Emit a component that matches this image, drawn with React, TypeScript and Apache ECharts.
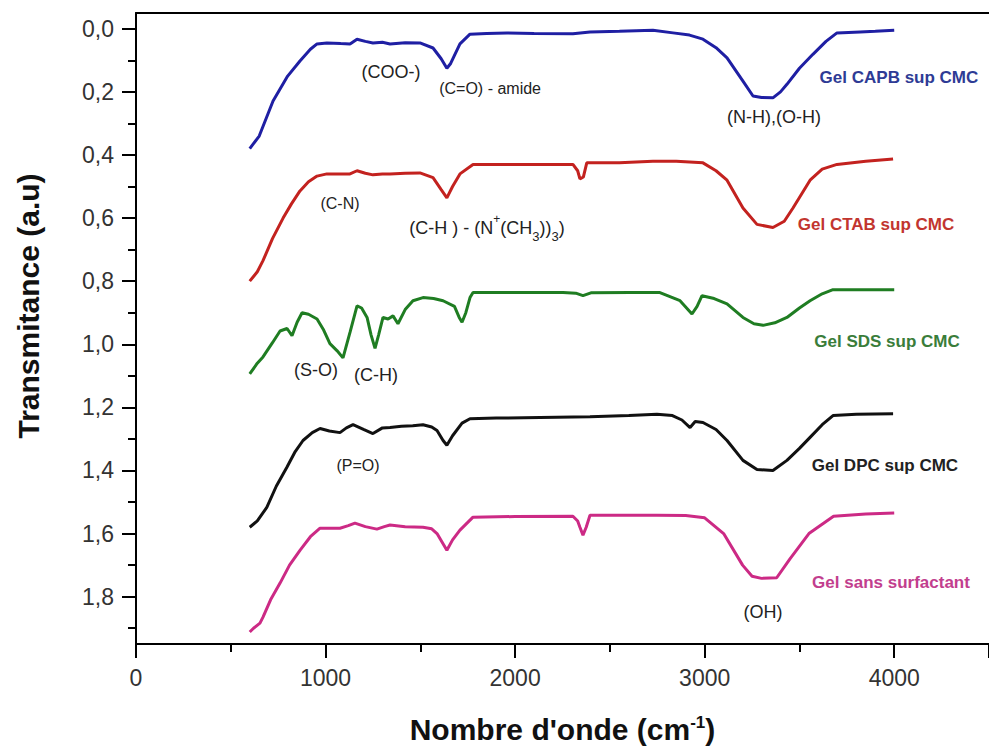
import React, { useEffect, useRef } from "react";
import * as echarts from "echarts";

const FONT = "'Liberation Sans', Arial, sans-serif";

// Wavenumbers (cm-1) and transmittance values
const capbX = [600, 650, 723, 800, 865, 920, 955, 1007, 1080, 1129, 1166, 1210, 1250, 1300, 1340, 1420, 1498, 1567, 1610, 1640, 1660, 1709, 1762, 1850, 1957, 2100, 2305, 2395, 2550, 2727, 2833, 2920, 2991, 3060, 3118, 3202, 3255, 3300, 3360, 3400, 3434, 3500, 3571, 3640, 3698, 3820, 3900, 4000];
const capbY = [0.38, 0.34, 0.229, 0.15, 0.102, 0.065, 0.048, 0.045, 0.047, 0.048, 0.033, 0.04, 0.045, 0.043, 0.048, 0.044, 0.045, 0.061, 0.095, 0.125, 0.11, 0.048, 0.017, 0.015, 0.013, 0.015, 0.016, 0.01, 0.008, 0.005, 0.013, 0.02, 0.033, 0.06, 0.092, 0.166, 0.213, 0.218, 0.219, 0.2, 0.176, 0.125, 0.081, 0.04, 0.013, 0.01, 0.008, 0.005];

const ctabX = [600, 620, 640, 670, 720, 776, 820, 865, 910, 955, 1007, 1080, 1129, 1166, 1210, 1250, 1300, 1340, 1420, 1498, 1567, 1610, 1640, 1670, 1709, 1778, 1957, 2100, 2305, 2330, 2342, 2360, 2378, 2550, 2727, 2850, 2991, 3060, 3118, 3202, 3276, 3360, 3420, 3466, 3556, 3620, 3698, 3850, 3994];
const ctabY = [0.8, 0.785, 0.77, 0.735, 0.665, 0.6, 0.555, 0.514, 0.485, 0.467, 0.46, 0.46, 0.46, 0.45, 0.458, 0.463, 0.46, 0.46, 0.458, 0.457, 0.472, 0.51, 0.536, 0.5, 0.46, 0.43, 0.43, 0.43, 0.43, 0.45, 0.476, 0.47, 0.425, 0.425, 0.42, 0.42, 0.425, 0.45, 0.48, 0.568, 0.62, 0.63, 0.61, 0.568, 0.48, 0.445, 0.43, 0.42, 0.413];

const sdsX = [600, 640, 670, 720, 760, 797, 823, 850, 876, 910, 955, 990, 1023, 1060, 1092, 1130, 1166, 1190, 1219, 1240, 1261, 1280, 1303, 1330, 1356, 1382, 1420, 1461, 1514, 1570, 1620, 1680, 1705, 1720, 1740, 1762, 1778, 2000, 2253, 2320, 2358, 2400, 2606, 2764, 2870, 2933, 2960, 2986, 3050, 3118, 3202, 3260, 3308, 3370, 3434, 3500, 3556, 3620, 3677, 3800, 4000];
const sdsY = [1.094, 1.06, 1.04, 0.995, 0.958, 0.95, 0.973, 0.93, 0.9, 0.905, 0.92, 0.955, 0.998, 1.02, 1.043, 0.96, 0.878, 0.885, 0.915, 0.97, 1.013, 0.97, 0.915, 0.92, 0.91, 0.935, 0.89, 0.862, 0.852, 0.855, 0.862, 0.88, 0.915, 0.93, 0.9, 0.852, 0.836, 0.836, 0.836, 0.838, 0.846, 0.837, 0.836, 0.836, 0.862, 0.904, 0.88, 0.846, 0.855, 0.872, 0.915, 0.935, 0.94, 0.932, 0.915, 0.885, 0.862, 0.84, 0.827, 0.827, 0.827];

const dpcX = [600, 640, 690, 740, 796, 840, 881, 930, 971, 1020, 1076, 1110, 1145, 1200, 1250, 1300, 1340, 1400, 1460, 1514, 1560, 1588, 1620, 1640, 1670, 1720, 1762, 1900, 2131, 2395, 2600, 2748, 2830, 2880, 2923, 2950, 2991, 3060, 3118, 3202, 3276, 3360, 3434, 3500, 3556, 3620, 3677, 3800, 3994];
const dpcY = [1.58, 1.56, 1.517, 1.45, 1.39, 1.34, 1.305, 1.28, 1.267, 1.275, 1.28, 1.265, 1.255, 1.27, 1.283, 1.265, 1.264, 1.26, 1.258, 1.255, 1.262, 1.273, 1.305, 1.32, 1.29, 1.25, 1.236, 1.234, 1.232, 1.23, 1.226, 1.222, 1.226, 1.24, 1.264, 1.245, 1.248, 1.27, 1.305, 1.368, 1.397, 1.4, 1.368, 1.33, 1.295, 1.255, 1.226, 1.222, 1.22];

const sansX = [600, 620, 654, 670, 710, 760, 810, 865, 920, 971, 1020, 1076, 1120, 1155, 1210, 1271, 1310, 1340, 1420, 1514, 1560, 1588, 1640, 1670, 1709, 1778, 2000, 2305, 2330, 2342, 2358, 2375, 2395, 2748, 2900, 3000, 3100, 3200, 3250, 3300, 3380, 3450, 3550, 3680, 3850, 4000];
const sansY = [1.912, 1.9, 1.884, 1.865, 1.81, 1.757, 1.7, 1.653, 1.61, 1.583, 1.583, 1.583, 1.575, 1.567, 1.578, 1.586, 1.578, 1.573, 1.578, 1.58, 1.585, 1.6, 1.653, 1.62, 1.589, 1.548, 1.546, 1.545, 1.56, 1.58, 1.605, 1.58, 1.542, 1.542, 1.543, 1.55, 1.6, 1.7, 1.735, 1.742, 1.74, 1.68, 1.6, 1.545, 1.538, 1.535];

const seriesNames = ["Gel CAPB sup CMC", "Gel CTAB sup CMC", "Gel SDS sup CMC", "Gel DPC sup CMC", "Gel sans surfactant"];
const lineColors = ["#1f1fa3", "#c3221f", "#1f7d22", "#111111", "#cc2a85"];
const labelColors = ["#2e3b95", "#c2352f", "#3a7d3a", "#222222", "#c23e8e"];

const xLabelValues = [0, 1000, 2000, 3000, 4000];
const yMajorTicks = [0, 0.2, 0.4, 0.6, 0.8, 1.0, 1.2, 1.4, 1.6, 1.8];
const yMinorTicks = [0.1, 0.3, 0.5, 0.7, 0.9, 1.1, 1.3, 1.5, 1.7, 1.9];
const yTitle = "Transmitance (a.u)";

// Annotations: [series index, wavenumber, transmittance, text]
const bandNotes: [number, number, number, string][] = [
  [0, 1345, 0.137, "(COO-)"],
  [0, 1868, 0.19, "{s|(C=O) - amide}"],
  [0, 3366, 0.28, "(N-H),(O-H)"],
  [1, 1076, 0.555, "{s|(C-N)}"],
  [1, 1852, 0.63, "(C-H ) - (N{sup|+}(CH{sub|3}){b|)}{sub|3}{b|)}"],
  [2, 950, 1.08, "(S-O)"],
  [2, 1266, 1.096, "(C-H)"],
  [3, 1171, 1.384, "{s|(P=O)}"],
  [4, 3308, 1.849, "(OH)"],
];
const namePos: [number, number][] = [
  [4025, 0.156],
  [3904, 0.621],
  [3962, 0.99],
  [3951, 1.384],
  [3983, 1.754],
];

function zip(xs: number[], ys: number[]) {
  return xs.map((x, i) => [x, ys[i]]);
}

export default function App() {
  const ref = useRef<HTMLDivElement>(null);
  useEffect(() => {
    document.body.style.margin = "0";
    if (!ref.current) return;
    const chart = echarts.init(ref.current, null, { renderer: "svg" });
    const data = [zip(capbX, capbY), zip(ctabX, ctabY), zip(sdsX, sdsY), zip(dpcX, dpcY), zip(sansX, sansY)];
    const series = data.map((d, i) => {
      const notes: any[] = bandNotes.filter((n) => n[0] === i).map((n) => ({
        coord: [n[1], n[2]],
        label: {
          formatter: n[3],
          color: "#222",
          fontSize: 18,
          fontFamily: FONT,
          rich: {
            s: { fontSize: 16, color: "#222", fontFamily: FONT },
            sup: { fontSize: 12, color: "#222", fontFamily: FONT, verticalAlign: "top", lineHeight: 26 },
            sub: { fontSize: 13, color: "#222", fontFamily: FONT, verticalAlign: "bottom", lineHeight: 30 },
            b: { fontSize: 18, color: "#222", fontFamily: FONT },
          },
        },
      }));
      notes.push({
        coord: namePos[i],
        label: {
          formatter: seriesNames[i],
          color: labelColors[i],
          fontSize: 17,
          fontWeight: "bold",
          fontFamily: FONT,
        },
      });
      return {
        type: "line",
        name: seriesNames[i],
        data: d,
        showSymbol: false,
        symbol: "none",
        lineStyle: { color: lineColors[i], width: 3 },
        itemStyle: { color: lineColors[i] },
        silent: true,
        markPoint: {
          symbol: "circle",
          symbolSize: 0,
          silent: true,
          label: { show: true, position: "inside" },
          data: notes,
        },
      };
    });
    chart.setOption({
      animation: false,
      backgroundColor: "#ffffff",
      grid: { left: 136, top: 13, width: 853, bottom: 105, containLabel: false, outerBoundsMode: "none" },
      graphic: [
        {
          type: "text",
          x: 28,
          y: 306,
          rotation: Math.PI / 2,
          silent: true,
          style: {
            text: yTitle,
            fontSize: 30,
            fontWeight: "bold",
            fontFamily: FONT,
            fill: "#111",
            align: "center",
            verticalAlign: "middle",
          },
        },
      ],
      xAxis: [
        {
          type: "value",
          position: "bottom",
          min: 0,
          max: 4500,
          interval: 1000,
          name: "Nombre d'onde (cm{sup|-1})",
          nameLocation: "middle",
          nameGap: 70,
          nameTextStyle: {
            fontSize: 30,
            fontWeight: "bold",
            color: "#111",
            fontFamily: FONT,
            rich: { sup: { fontSize: 17, fontWeight: "bold", color: "#111", verticalAlign: "top", fontFamily: FONT } },
          },
          axisLine: { show: true, onZero: false, lineStyle: { color: "#000", width: 2 } },
          axisTick: { show: true, inside: false, length: 14, lineStyle: { color: "#000", width: 2 } },
          axisLabel: {
            fontSize: 23,
            color: "#333",
            margin: 22,
            fontFamily: FONT,
            customValues: xLabelValues,
            formatter: (v: number) => String(v),
          },
          splitLine: { show: false },
        },
        {
          type: "value",
          position: "bottom",
          min: 0,
          max: 4500,
          interval: 500,
          axisLine: { show: false, onZero: false },
          axisTick: { show: true, inside: false, length: 8, lineStyle: { color: "#000", width: 2 } },
          axisLabel: { show: false },
          splitLine: { show: false },
        },
        {
          type: "value",
          position: "top",
          min: 0,
          max: 4500,
          axisLine: { show: true, onZero: false, lineStyle: { color: "#000", width: 2 } },
          axisTick: { show: false },
          axisLabel: { show: false },
          splitLine: { show: false },
        },
      ],
      yAxis: [
        {
          type: "value",
          inverse: true,
          min: -0.05,
          max: 1.95,
          position: "left",
          axisLine: { show: true, onZero: false, lineStyle: { color: "#000", width: 2 } },
          axisTick: { show: true, inside: false, length: 14, customValues: yMajorTicks, lineStyle: { color: "#000", width: 2 } },
          axisLabel: {
            fontSize: 23,
            color: "#333",
            margin: 22,
            fontFamily: FONT,
            customValues: yMajorTicks,
            formatter: (v: number) => v.toFixed(1).replace(".", ","),
          },
          splitLine: { show: false },
        },
        {
          type: "value",
          inverse: true,
          min: -0.05,
          max: 1.95,
          position: "left",
          axisLine: { show: false, onZero: false },
          axisTick: { show: true, inside: false, length: 8, customValues: yMinorTicks, lineStyle: { color: "#000", width: 2 } },
          axisLabel: { show: false },
          splitLine: { show: false },
        },
      ],
      series,
    });
    return () => chart.dispose();
  }, []);
  return <div ref={ref} style={{ width: 989, height: 749 }} />;
}
